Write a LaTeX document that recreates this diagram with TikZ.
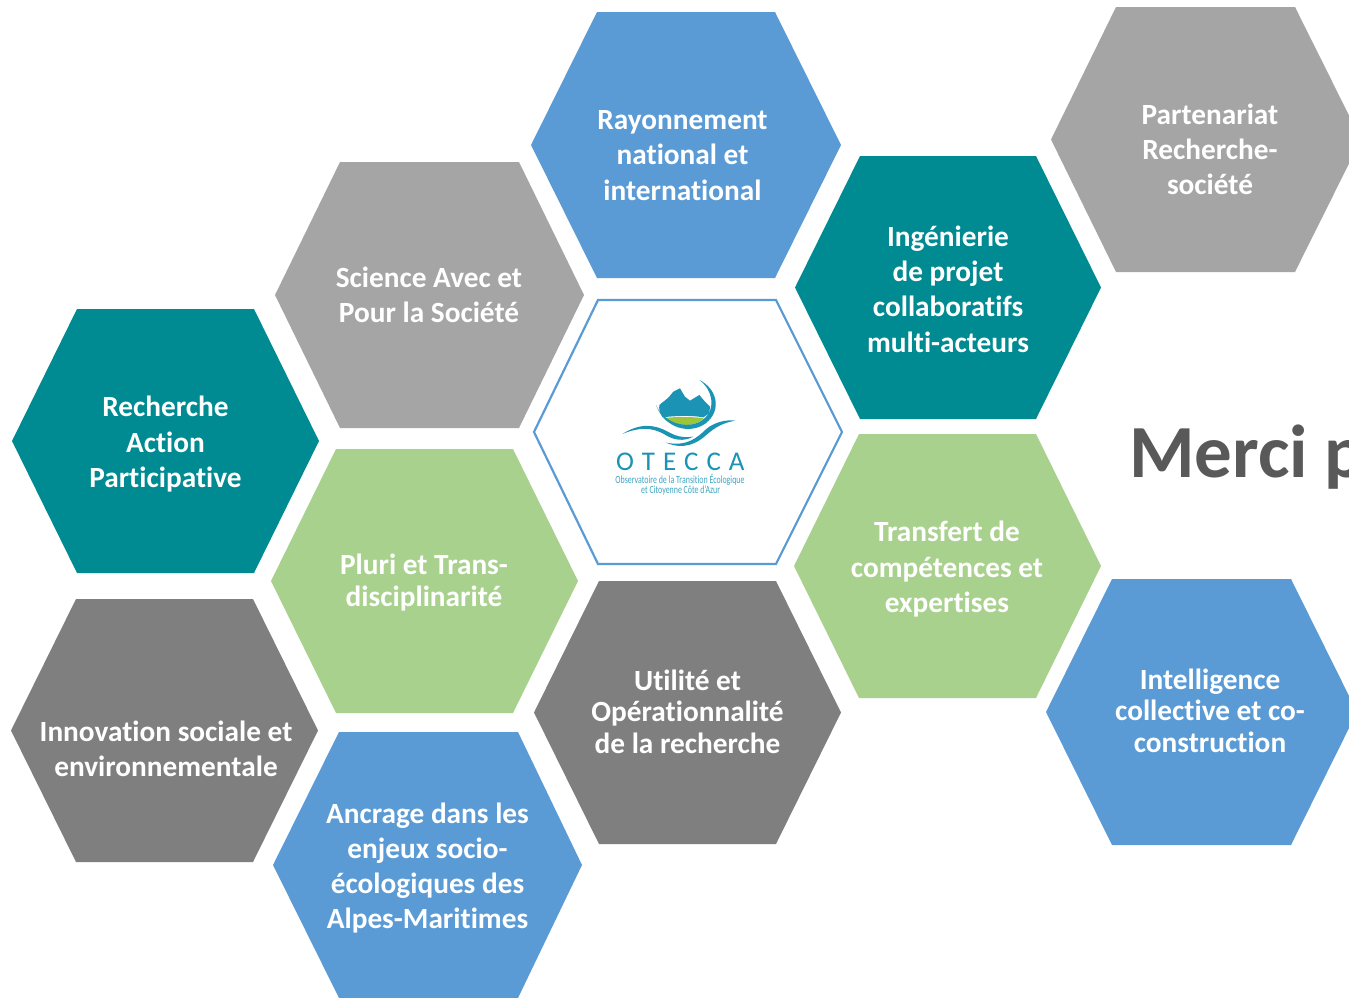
\documentclass[tikz,border=0pt]{standalone}
\usepackage{fontspec}
\setmainfont{Carlito}[Ligatures=CommonOff]
\definecolor{hblue}{HTML}{5B9BD5}
\definecolor{hgray}{HTML}{A5A5A5}
\definecolor{hdark}{HTML}{7F7F7F}
\definecolor{hteal}{HTML}{008A91}
\definecolor{hgreen}{HTML}{A9D18E}
\definecolor{hline}{HTML}{5B9BD5}
\definecolor{lgblue}{HTML}{1B93B5}
\definecolor{lgtext}{HTML}{3FA5C0}
\definecolor{lggreen}{HTML}{9CC53B}
\definecolor{merci}{HTML}{595959}
\newcommand{\hexa}[7]{% style l r t b topleft topright
  \path[#1] (#2,{(#4+#5)/2}) -- (#6,#4) -- (#7,#4) -- (#3,{(#4+#5)/2}) -- (#7,#5) -- (#6,#5) -- cycle;}
\tikzset{
  hlabel/.style={align=center,text=white,inner sep=0pt,font=\fontsize{29.3}{35.3}\selectfont\bfseries},
  hlabeltight/.style={hlabel,font=\fontsize{29.3}{31.5}\selectfont\bfseries},
  fblue/.style={fill=hblue},fgray/.style={fill=hgray},fdark/.style={fill=hdark},
  fteal/.style={fill=hteal},fgreen/.style={fill=hgreen},
  foutline/.style={fill=white,draw=hline,line width=2.2pt},
}
\begin{document}
\begin{tikzpicture}[x=1pt,y=-1pt]
\useasboundingbox (0,0) rectangle (1349,997);
\clip (0,0) rectangle (1349,997);
\fill[white] (0,0) rectangle (1349,997);
\hexa{fblue}{531}{841}{12}{278}{597}{775}
\hexa{fgray}{1051}{1361}{7}{272}{1116}{1295}
\hexa{fgray}{275}{584}{162}{428}{340}{519}
\hexa{fteal}{795}{1101}{156}{419}{860}{1036}
\hexa{foutline}{534}{842}{300}{564}{598}{776}
\hexa{fteal}{12}{319}{309}{573}{77}{254}
\hexa{fgreen}{271}{578}{449}{713}{336}{513}
\hexa{fgreen}{794}{1101}{434}{698}{859}{1036}
\hexa{fdark}{534}{841}{581}{844}{599}{776}
\hexa{fblue}{1046}{1357}{579}{845}{1112}{1291}
\hexa{fdark}{11}{318}{599}{862}{76}{253}
\hexa{fblue}{273}{582}{732}{998}{339}{518}
\node[hlabel] (ray) at (682.5,155.5) {Rayonnement\\national et\\international};
\node[hlabel] (par) at (1210,149.2) {Partenariat\\Recherche-\\société};
\node[hlabel] (sci) at (429,295) {Science Avec et\\Pour la Société};
\node[hlabel] (ing) at (948,289) {Ingénierie\\de projet\\collaboratifs\\multi-acteurs};
\node[hlabel] (rec) at (165.5,444.3) {Recherche\\Action\\Participative};
\node[hlabeltight] (plu) at (424,582.3) {Pluri et Trans-\\disciplinarité};
\node[hlabel] (tra) at (947,569.3) {Transfert de\\compétences et\\expertises};
\node[hlabeltight] (uti) at (687.5,711.7) {Utilité et\\Opérationnalité\\de la recherche};
\node[hlabeltight] (int) at (1210,710.7) {Intelligence\\collective et co-\\construction};
\node[hlabel] (inn) at (166,748.7) {Innovation sociale et\\environnementale};
\node[hlabel] (anc) at (427.5,868) {Ancrage dans les\\enjeux socio-\\écologiques des\\Alpes-Maritimes};
\node[anchor=base west,inner sep=0pt,text=merci,font=\fontsize{75}{75}\selectfont\bfseries] (mer) at (1129,477) {Merci p};
% logo
\begin{scope}[shift={(590,360)},x=0.3333pt,y=-0.3333pt]
\fill[lgblue] (208,135) -- (235,113) -- (250,95) -- (270,85) -- (285,110) -- (300,122) -- (328,105) -- (345,125) -- (360,140) -- (358,160) -- (340,172) .. controls (300,165) and (250,168) .. (218,172) .. controls (210,160) and (206,148) .. (208,135) -- cycle;
\fill[lggreen] (220,174) .. controls (260,170) and (300,170) .. (342,174) .. controls (325,198) and (250,208) .. (220,174) -- cycle;
\fill[lgblue] (328,60) .. controls (380,85) and (398,150) .. (347,190) .. controls (300,224) and (225,207) .. (198,135) .. controls (225,195) and (300,210) .. (340,178) .. controls (382,145) and (365,85) .. (328,60) -- cycle;
\fill[lgblue] (97,222) .. controls (150,188) and (195,193) .. (235,216) .. controls (265,233) and (290,233) .. (310,230) .. controls (280,246) and (250,240) .. (225,224) .. controls (185,200) and (145,202) .. (97,222) -- cycle;
\fill[lgblue] (228,248) .. controls (290,260) and (320,235) .. (350,206) .. controls (375,186) and (410,178) .. (436,182) .. controls (400,188) and (375,202) .. (350,224) .. controls (320,252) and (280,270) .. (228,248) -- cycle;
\node[inner sep=0pt,text=lgblue] (otc) at (271,305) {\fontsize{27}{27}\selectfont O\kern8pt T\kern8pt E\kern8pt C\kern8pt C\kern8pt A};
\node[inner sep=0pt,text=lgtext,xscale=0.72] (ob1) at (270,359) {\fontsize{11}{11}\selectfont Observatoire de la Transition Écologique};
\node[inner sep=0pt,text=lgtext,xscale=0.72] (ob2) at (272,391) {\fontsize{11}{11}\selectfont et Citoyenne Côte d'Azur};
\end{scope}
\end{tikzpicture}
\end{document}
